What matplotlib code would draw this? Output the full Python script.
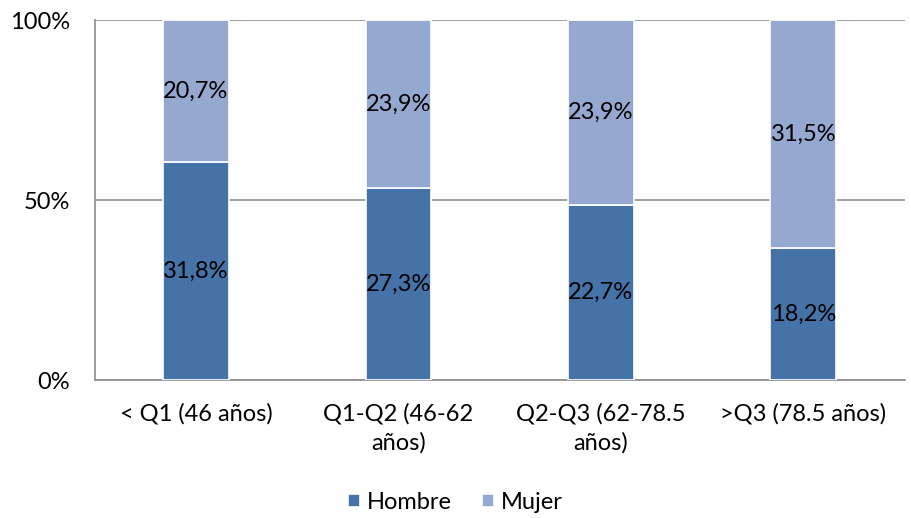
import matplotlib
matplotlib.use("Agg")
import matplotlib.pyplot as plt
import numpy as np

# datos
categorias = ["< Q1 (46 años)", "Q1-Q2 (46-62\naños)", "Q2-Q3 (62-78.5\naños)", ">Q3 (78.5 años)"]
hombre = [31.8, 27.3, 22.7, 18.2]
mujer = [20.7, 23.9, 23.9, 31.5]

col_h = "#4572A7"
col_m = "#95A9D0"

plt.rcParams['font.family'] = ['Lato', 'DejaVu Sans']

h = np.array(hombre)
m = np.array(mujer)
tot = h + m
h_pct = h / tot * 100
m_pct = m / tot * 100

fig = plt.figure(figsize=(9.11, 5.18), dpi=100)
ax = fig.add_axes([0.104, 0.266, 0.889, 0.695])

x = np.arange(len(categorias))
w = 0.325
b1 = ax.bar(x, h_pct, w, color=col_h, edgecolor="white", linewidth=1.2, label="Hombre", zorder=3)
b2 = ax.bar(x, m_pct, w, bottom=h_pct, color=col_m, edgecolor="white", linewidth=1.2, label="Mujer", zorder=3)

for i in range(len(categorias)):
    ax.text(x[i], h_pct[i] / 2, f"{hombre[i]:.1f}%".replace(".", ","),
            ha="center", va="center", fontsize=17, color="black", zorder=4)
    ax.text(x[i], h_pct[i] + m_pct[i] / 2, f"{mujer[i]:.1f}%".replace(".", ","),
            ha="center", va="center", fontsize=17, color="black", zorder=4)

ax.set_xlim(-0.5, 3.5)
ax.set_ylim(0, 100)
ax.set_yticks([0, 50, 100])
ax.set_yticklabels(["0%", "50%", "100%"], fontsize=17)
ax.set_xticks(x)
ax.set_xticklabels(categorias, fontsize=17, linespacing=1.45)
ax.tick_params(axis="y", length=0, pad=18)
ax.tick_params(axis="x", length=0, pad=16)
ax.yaxis.grid(True, color="#8c8c8c", linewidth=1.2, zorder=0)

for s in ["top", "right"]:
    ax.spines[s].set_visible(False)
for s in ["left", "bottom"]:
    ax.spines[s].set_color("#8c8c8c")
    ax.spines[s].set_linewidth(1.2)

fig.legend(handles=[b1, b2], loc="center", bbox_to_anchor=(0.5, 0.03), ncol=2,
           frameon=False, fontsize=17, handlelength=0.5, handleheight=0.5,
           handletextpad=0.3, columnspacing=1.3)

fig.savefig("out.png", dpi=100)
